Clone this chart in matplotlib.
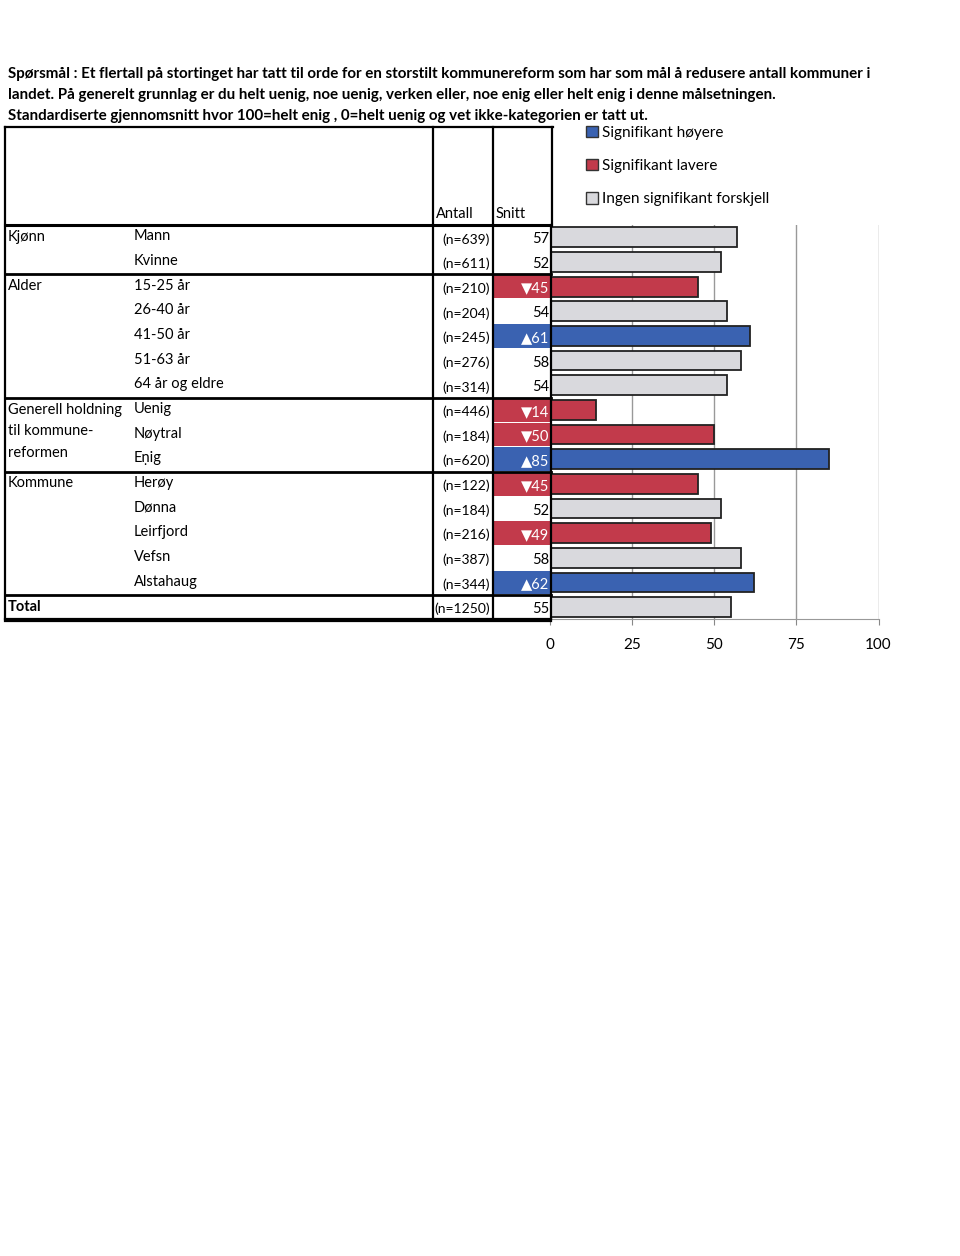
import numpy as np
import matplotlib
matplotlib.use("Agg")
import matplotlib.pyplot as plt
from matplotlib.patches import Rectangle, Patch
from matplotlib.transforms import blended_transform_factory

plt.rcParams['font.family'] = ['Lato', 'DejaVu Sans']

# data
title_lines = [
    "Spørsmål : Et flertall på stortinget har tatt til orde for en storstilt kommunereform som har som mål å redusere antall kommuner i",
    "landet. På generelt grunnlag er du helt uenig, noe uenig, verken eller, noe enig eller helt enig i denne målsetningen.",
    "Standardiserte gjennomsnitt hvor 100=helt enig , 0=helt uenig og vet ikke-kategorien er tatt ut.",
]
group_names = ["Kjønn", "Alder", "Generell holdning\ntil kommune-\nreformen", "Kommune", "Total"]
group_sizes = [2, 5, 3, 5, 1]
sub_labels = ["Mann", "Kvinne", "15-25 år", "26-40 år", "41-50 år", "51-63 år", "64 år og eldre",
              "Uenig", "Nøytral", "Eṇig", "Herøy", "Dønna", "Leirfjord", "Vefsn", "Alstahaug", ""]
counts = [639, 611, 210, 204, 245, 276, 314, 446, 184, 620, 122, 184, 216, 387, 344, 1250]
means = [57, 52, 45, 54, 61, 58, 54, 14, 50, 85, 45, 52, 49, 58, 62, 55]
# 1 = significantly higher, -1 = significantly lower, 0 = no difference
signif = [0, 0, -1, 0, 1, 0, 0, -1, -1, 1, -1, 0, -1, 0, 1, 0]
legend_labels = ["Signifikant høyere", "Signifikant lavere", "Ingen signifikant forskjell"]
x_ticks = [0, 25, 50, 75, 100]

BLUE = "#3a62b1"
RED = "#c23a4b"
GRAY = "#d9d9dd"
sig_color = {1: BLUE, -1: RED, 0: GRAY}

W, H = 960, 1256
fig = plt.figure(figsize=(W / 100, H / 100), dpi=100)

def fx(px):
    return px / W

def fy(py):
    return 1 - py / H

# bar axes: x 0..100 -> px 550..878.5, rows centred at 237..607
ax = fig.add_axes([fx(550), fy(619.5), (878.5 - 550) / W, (619.5 - 225) / H])
n = len(means)
rows = np.arange(n)
ax.set_ylim(n - 0.5, -0.5)
ax.set_xlim(0, 100)

bar_colors = [sig_color[s] for s in signif]
ax.barh(rows, means, height=0.8, color=bar_colors, edgecolor="#222222", linewidth=1.3, zorder=3)

ax.set_xticks(x_ticks)
ax.set_xticklabels([str(t) for t in x_ticks], fontsize=11)
ax.set_yticks([])
ax.tick_params(axis="x", length=4, color="#888888", pad=9)
ax.grid(axis="x", color="#999999", linewidth=1.0, zorder=0)
for s in ["top", "right"]:
    ax.spines[s].set_visible(False)
ax.spines["bottom"].set_color("#999999")
ax.spines["left"].set_visible(False)

# table drawn with x in figure coords, y in row coords
tr = blended_transform_factory(fig.transFigure, ax.transData)
lw = 1.6

def hline(y, x0=5, x1=551, width=lw):
    ax.plot([fx(x0), fx(x1)], [y, y], transform=tr, color="black", lw=width, clip_on=False, zorder=5)

# header box
fig.add_artist(plt.Line2D([fx(5), fx(553)], [fy(127), fy(127)], color="black", lw=lw))
for xp in [5, 433, 493]:
    fig.add_artist(plt.Line2D([fx(xp), fx(xp)], [fy(127), fy(619)], color="black", lw=lw))
fig.add_artist(plt.Line2D([fx(552), fx(552)], [fy(127), fy(225)], color="black", lw=lw))
ax.plot([fx(551), fx(551)], [-0.5, n - 0.5], transform=tr, color="black", lw=lw, clip_on=False, zorder=6)
fig.text(fx(436), fy(214), "Antall", fontsize=10.5, va="center", ha="left")
fig.text(fx(496), fy(214), "Snitt", fontsize=10.5, va="center", ha="left")

# group separators
hline(-0.5, width=2.2)
start = 0
for name, size in zip(group_names, group_sizes):
    bold = name == "Total"
    ax.text(fx(8), start - 0.30, name, transform=tr, fontsize=10.5, va="top", ha="left",
            fontweight="bold" if bold else "normal", linespacing=1.7)
    start += size
    if start < n:
        hline(start - 0.5, width=2.0)
hline(n - 0.5 - 0.04)
hline(n - 0.5 + 0.08)

# rows
for i in rows:
    ax.text(fx(134), i - 0.04, sub_labels[i], transform=tr, fontsize=10.5, va="center", ha="left")
    ax.text(fx(490), i + 0.08, f"(n={counts[i]})", transform=tr, fontsize=10, va="center", ha="right")
    if signif[i] != 0:
        ax.add_patch(Rectangle((fx(494), i - 0.48), fx(550) - fx(494), 0.96, transform=tr,
                               facecolor=sig_color[signif[i]], edgecolor="none", clip_on=False, zorder=2))
        arrow = "▲" if signif[i] > 0 else "▼"
        ax.text(fx(549.5), i + 0.08, f"{arrow}{means[i]}", transform=tr, fontsize=10.5,
                va="center", ha="right", color="white", zorder=4)
    else:
        ax.text(fx(549.5), i + 0.08, str(means[i]), transform=tr, fontsize=10.5,
                va="center", ha="right", zorder=4)

# title
for k, line in enumerate(title_lines):
    fig.text(fx(8), fy(74 + 21 * k), line, fontsize=10.9, fontweight="bold", va="center", ha="left")

# legend
handles = [Patch(facecolor=c, edgecolor="#333333", linewidth=1.0) for c in [BLUE, RED, GRAY]]
fig.legend(handles, legend_labels, loc="upper left", bbox_to_anchor=(fx(580), fy(120)),
           frameon=False, fontsize=11, handlelength=0.75, handleheight=0.75,
           handletextpad=0.3, labelspacing=1.25, borderaxespad=0)

fig.savefig("out.png", dpi=100, facecolor="white")
